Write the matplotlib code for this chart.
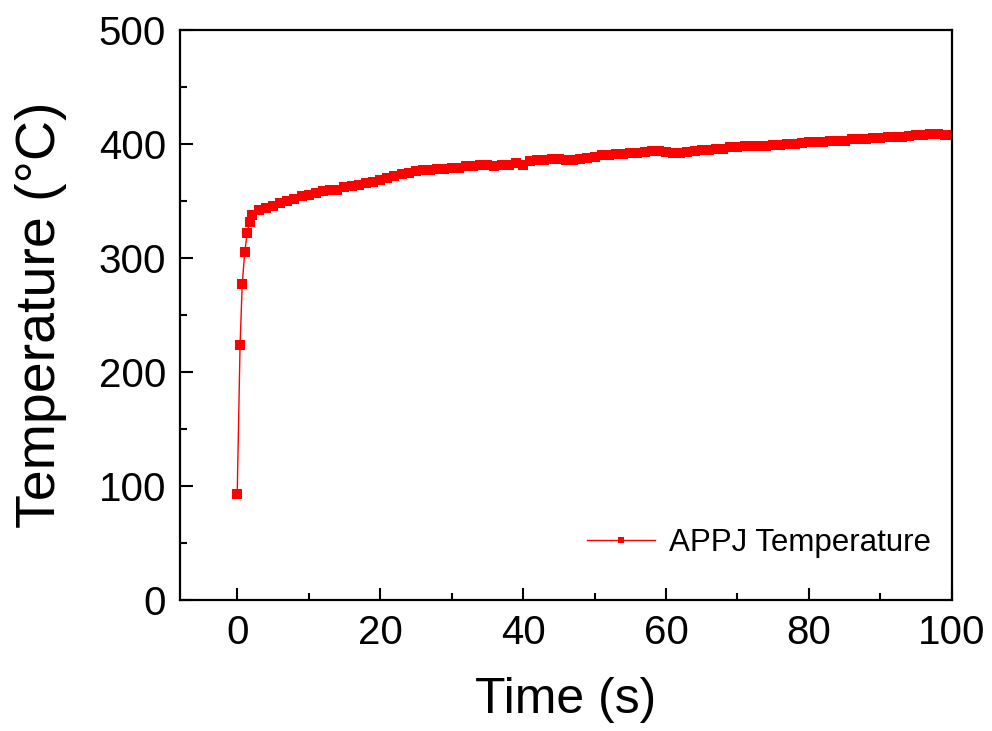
import matplotlib
matplotlib.use("Agg")
import matplotlib.pyplot as plt
from matplotlib.ticker import MultipleLocator

plt.rcParams['font.family'] = ['Liberation Sans', 'DejaVu Sans']

# early rise (s, degC)
t_rise = [0.0, 0.4, 0.7, 1.05, 1.4, 1.75]
temp_rise = [93, 224, 277, 305, 322, 332]

# slow part, 1 s steps
t_slow = list(range(2, 101))
temp_slow = [338, 342, 344, 346, 348, 350, 352, 354, 355,
             357, 359, 360, 360, 362, 363, 364, 366, 367, 368,
             370, 372, 374, 375, 376, 377, 377, 378, 378, 379,
             379, 381, 381, 382, 382, 381, 382, 382, 383, 382,
             385, 386, 386, 387, 387, 386, 386, 387, 388, 389,
             390, 390, 391, 391, 392, 392, 393, 394, 394, 393,
             392, 392, 393, 394, 395, 395, 396, 396, 397, 397,
             398, 398, 398, 398, 399, 399, 400, 400, 401, 402,
             402, 402, 403, 403, 403, 404, 404, 404, 405, 405,
             406, 406, 406, 407, 408, 408, 409, 409, 408, 408]

time = t_rise + t_slow
temp = temp_rise + temp_slow

fig = plt.figure(figsize=(9.92, 7.31), dpi=100)
ax = fig.add_axes([0.1815, 0.179, 0.778, 0.78])

ax.plot(time, temp, color='#ff0000', lw=1, marker='s', markersize=6.8,
        markeredgewidth=0, label='APPJ Temperature')

ax.set_xlim(-8, 100)
ax.set_ylim(0, 500)
ax.xaxis.set_major_locator(MultipleLocator(20))
ax.xaxis.set_minor_locator(MultipleLocator(10))
ax.yaxis.set_major_locator(MultipleLocator(100))
ax.yaxis.set_minor_locator(MultipleLocator(50))

ax.tick_params(which='major', direction='in', length=9, width=1.5, labelsize=29, pad=10)
ax.tick_params(which='minor', direction='in', length=5, width=1.5)
for s in ax.spines.values():
    s.set_linewidth(1.6)

ax.set_xlabel('Time (s)', fontsize=36, labelpad=18)
ax.set_ylabel('Temperature (\u00b0C)', fontsize=40, labelpad=23)

ax.legend(loc='lower right', bbox_to_anchor=(1.01, 0.025), frameon=False,
          fontsize=22.5, handlelength=2.2, handletextpad=0.45, markerscale=0.65)

fig.savefig('out.png', dpi=100)
